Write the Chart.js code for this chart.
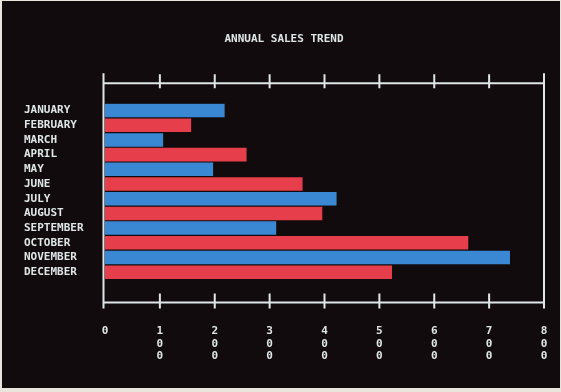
<!DOCTYPE html>
<html><head><meta charset="utf-8">
<script src="https://cdn.jsdelivr.net/npm/chart.js@4"></script>
<style>
html,body{margin:0;padding:0;background:#120b0e;}
#wrap{position:relative;width:561px;height:392px;overflow:hidden;background:#120b0e;}
#c{position:absolute;left:0;top:0;}
#edge{position:absolute;left:0;top:0;width:561px;height:392px;box-sizing:border-box;border-style:solid;border-color:#e9e5dc;border-width:1px 1px 4px 2px;pointer-events:none;}
</style></head><body>
<div id="wrap"><canvas id="c" width="561" height="392"></canvas><div id="edge"></div></div>
<script>
const chartTitle = 'ANNUAL SALES TREND';
const months = ['JANUARY','FEBRUARY','MARCH','APRIL','MAY','JUNE','JULY','AUGUST','SEPTEMBER','OCTOBER','NOVEMBER','DECEMBER'];
const sales = [218, 157, 106, 258, 197, 360, 422, 396, 312, 662, 738, 523];
const seriesColors = ['#3a88d4', '#e63e4a'];
const xTicks = [0, 100, 200, 300, 400, 500, 600, 700, 800];

const FONT = "'DejaVu Sans Mono', 'Liberation Mono', monospace";
const INK = '#dfe6e6';

const framePlugin = {
  id: 'frame',
  afterDraw(chart) {
    const ctx = chart.ctx, a = chart.chartArea, xs = chart.scales.x;
    const left = xs.getPixelForValue(0) - 1.5;
    const right = xs.getPixelForValue(800);
    const top = a.top - 20, bottom = a.bottom + 23;
    ctx.save();
    ctx.strokeStyle = INK;
    ctx.lineWidth = 2;
    ctx.beginPath();
    ctx.moveTo(left, top - 10); ctx.lineTo(left, bottom + 6);
    ctx.moveTo(right, top - 10); ctx.lineTo(right, bottom + 6);
    ctx.moveTo(left, top); ctx.lineTo(right, top);
    ctx.moveTo(left, bottom); ctx.lineTo(right, bottom);
    xTicks.slice(1, -1).forEach(v => {
      const x = xs.getPixelForValue(v);
      ctx.moveTo(x, top - 9); ctx.lineTo(x, top + 5);
      ctx.moveTo(x, bottom - 9); ctx.lineTo(x, bottom + 6);
    });
    ctx.stroke();
    ctx.restore();
  }
};

new Chart(document.getElementById('c'), {
  type: 'bar',
  data: {
    labels: months,
    datasets: [{
      data: sales,
      backgroundColor: months.map((m, i) => seriesColors[i % 2]),
      borderWidth: 0,
      barPercentage: 0.92,
      categoryPercentage: 1.0
    }]
  },
  options: {
    indexAxis: 'y',
    responsive: false,
    animation: false,
    layout: { padding: { left: 24, right: 17, top: 0, bottom: 0 } },
    plugins: {
      legend: { display: false },
      tooltip: { enabled: false },
      title: {
        display: true,
        text: chartTitle,
        color: INK,
        font: { family: FONT, size: 11, weight: 'bold', lineHeight: 1.2 },
        padding: { top: 33, bottom: 57 }
      }
    },
    scales: {
      x: {
        type: 'linear',
        min: 0, max: 800,
        afterBuildTicks(scale) { scale.ticks = xTicks.map(v => ({ value: v })); },
        grid: { display: false, drawTicks: false },
        border: { display: false },
        ticks: {
          color: INK,
          padding: 46,
          maxRotation: 0,
          autoSkip: false,
          font: { family: FONT, size: 11, weight: 'bold', lineHeight: 1.1 },
          callback: v => v === 0 ? '0' : String(v).split('')
        },
        afterFit(scale) {
          scale.height = 392 - 279.5;
          scale.paddingLeft = 0;
          scale.paddingRight = 0;
        }
      },
      y: {
        type: 'category',
        offset: true,
        grid: { display: false, drawTicks: false },
        border: { display: false },
        ticks: {
          color: INK,
          crossAlign: 'far',
          padding: 0,
          autoSkip: false,
          font: { family: FONT, size: 11, weight: 'bold' }
        },
        afterFit(scale) { scale.width = 81; }
      }
    }
  },
  plugins: [framePlugin]
});
</script>
</body></html>
